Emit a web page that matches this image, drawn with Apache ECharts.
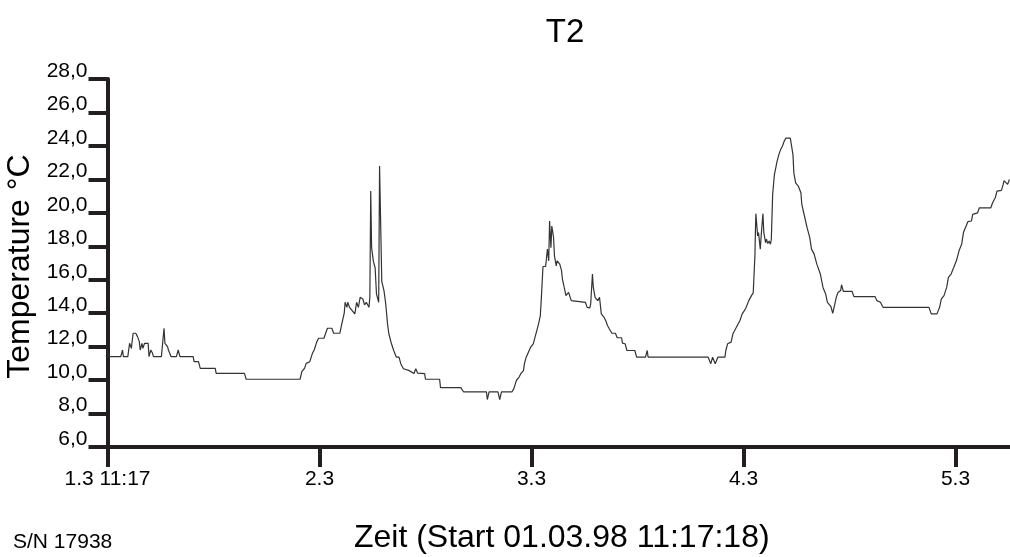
<!DOCTYPE html>
<html>
<head>
<meta charset="utf-8">
<script src="https://cdn.jsdelivr.net/npm/echarts@6/dist/echarts.min.js"></script>
<style>html,body{margin:0;padding:0;background:#fff}#c{width:1010px;height:557px}</style>
</head>
<body>
<div id="c"></div>
<script>
// hours since start (01.03.98 11:17:18)
const hours = [0,0.1,1.5,1.7,1.8,2.3,2.5,2.7,2.9,3.2,3.4,3.6,3.7,3.9,4.0,4.2,4.6,4.7,4.9,5.1,5.2,6.1,6.4,6.5,6.8,6.9,7.2,7.8,8.0,8.2,9.7,9.8,10.3,10.5,12.2,12.3,15.5,15.7,21.8,22.0,22.3,22.5,22.9,23.2,23.4,23.7,23.9,24.5,24.9,25.4,25.6,26.3,26.5,26.8,26.9,27.1,27.2,27.4,28.0,28.2,28.4,28.6,28.9,29.1,29.3,29.6,29.7,29.8,29.9,30.1,30.3,30.45,30.7,30.8,30.9,31.05,31.3,31.5,31.7,31.85,32.15,32.4,32.7,33.0,33.2,33.5,34.1,34.7,34.9,35.1,35.9,36.0,37.6,37.7,40.0,40.3,42.9,43.0,43.2,44.2,44.4,44.6,45.8,46.0,46.3,46.6,46.8,47.1,47.2,47.4,47.6,47.9,48.2,48.4,48.6,48.8,49.0,49.1,49.3,49.6,49.8,49.95,50.05,50.2,50.3,50.5,50.6,50.8,50.9,51.2,51.4,51.5,51.7,51.9,52.1,52.2,52.5,52.6,54.1,54.3,54.6,54.7,54.9,55.0,55.2,55.4,55.5,55.7,55.9,56.2,56.4,56.6,56.8,57.1,57.5,57.7,58.2,58.3,58.6,58.8,59.7,59.9,60.9,61.1,61.2,68.0,68.3,68.5,68.8,69.1,69.9,70.0,70.2,70.6,70.8,71.0,71.3,71.6,71.85,72.1,72.3,72.6,72.9,73.1,73.3,73.35,73.4,73.6,73.7,73.9,74.0,74.2,74.3,74.5,74.6,74.75,74.9,75.05,75.15,75.3,75.5,75.8,76.0,76.2,76.4,76.6,76.8,77.3,77.6,77.7,77.9,78.2,78.5,78.6,78.9,79.2,79.5,79.7,80.0,80.3,80.7,81.0,81.3,81.5,81.9,82.1,82.3,82.5,82.7,83.0,83.1,83.3,84.3,84.5,86.9,87.1,87.5,87.8,93.0,93.25,93.9,94.2,94.4,94.7,95.0,95.2,95.5,95.8,96.1,96.4,96.7,96.8,96.9,97.2,97.4,97.8,97.95,98.5,98.7,100.0,100.2,100.5,100.7,101.2,101.4,101.5,101.7,101.9,102.1];
const temps = [11.8,11.4,11.4,11.8,11.4,11.4,12.2,11.9,12.8,12.8,12.6,12.3,11.8,12.2,11.9,12.2,12.2,11.4,11.8,11.6,11.4,11.4,13.1,12.2,12.0,11.8,11.4,11.4,11.8,11.4,11.4,11.1,11.1,10.7,10.7,10.4,10.4,10.05,10.05,10.5,10.7,11.0,11.1,11.6,11.8,12.3,12.5,12.5,13.1,13.1,12.8,12.8,13.3,14.0,14.65,14.35,14.65,14.35,13.96,14.65,14.35,14.95,14.85,14.5,14.65,14.35,14.95,21.3,17.9,17.1,16.7,15.15,14.65,22.8,22.8,15.9,15.35,14.55,13.36,12.77,12.17,11.77,11.37,11.37,10.98,10.68,10.58,10.39,10.68,10.42,10.39,10.05,10.05,9.55,9.55,9.3,9.3,8.84,9.3,9.3,8.84,9.3,9.3,9.49,9.99,10.18,10.39,10.58,10.98,11.37,11.48,11.97,12.17,12.57,12.96,13.36,13.86,14.75,16.79,16.79,17.83,17.13,19.51,17.92,19.21,18.52,17.43,16.83,17.13,16.93,16.54,16.04,15.54,15.05,14.95,15.24,14.75,14.65,14.65,14.35,14.32,14.55,16.34,15.54,14.95,14.95,14.75,14.95,13.96,13.76,13.56,13.26,13.07,12.8,12.8,12.53,12.53,12.21,12.17,11.77,11.77,11.37,11.37,11.77,11.37,11.37,10.98,11.37,10.98,11.37,11.37,11.77,12.17,12.27,12.77,12.96,13.26,13.56,13.96,14.15,14.35,14.75,15.05,15.21,17.53,18.92,19.95,18.62,18.82,17.83,18.62,19.95,18.82,18.22,18.42,18.16,18.32,18.12,18.42,21.1,22.29,23.08,23.48,23.78,23.98,24.27,24.47,24.47,23.48,22.39,21.79,21.6,21.2,20.51,19.81,19.11,18.52,17.83,17.53,16.93,16.34,15.54,15.15,14.65,14.39,13.99,14.45,14.95,15.24,15.35,15.7,15.3,15.3,14.99,14.99,14.75,14.65,14.35,14.35,13.96,13.96,14.35,14.85,15.05,15.54,16.14,16.34,16.73,17.13,17.73,18.13,18.22,18.82,19.21,19.47,19.51,19.91,20.0,20.3,20.3,20.6,20.9,21.3,21.34,21.7,21.93,21.93,21.7,21.99];
const xTickLabels = ['1.3 11:17','2.3','3.3','4.3','5.3'];
const yMin = 6, yMax = 28, yStep = 2;
const xMax = 102.17;

const FONT = "'Liberation Sans', Arial, sans-serif";
const AX = '#231f20';
const chart = echarts.init(document.getElementById('c'), null, {renderer:'canvas'});
chart.setOption({
  animation:false,
  backgroundColor:'#fff',
  title:{text:'T2', left:560, top:11, textAlign:'center',
    textStyle:{fontFamily:FONT, fontSize:33, fontWeight:'normal', color:'#000'}},
  grid:{left:107.5, right:0, top:79, bottom:110, containLabel:false, outerBoundsMode:'none'},
  xAxis:{type:'value', min:0, max:xMax, interval:24,
    name:'Zeit (Start 01.03.98 11:17:18)', nameLocation:'middle', nameGap:75,
    nameTextStyle:{fontFamily:FONT, fontSize:32, color:'#000', padding:[0,0,0,6]},
    axisLine:{onZero:false, lineStyle:{color:AX, width:4}},
    axisTick:{length:20, lineStyle:{color:AX, width:4}},
    splitLine:{show:false},
    axisLabel:{margin:22, fontFamily:FONT, fontSize:21, color:'#000', showMaxLabel:false,
      formatter:(v)=>{const i=Math.round(v/24); return xTickLabels[i]!==undefined && Math.abs(v-i*24)<1e-6 ? xTickLabels[i] : '';}}
  },
  yAxis:{type:'value', min:yMin, max:yMax, interval:yStep,
    name:'Temperature °C', nameLocation:'middle', nameGap:64,
    nameTextStyle:{fontFamily:FONT, fontSize:32, color:'#000', padding:[0,7,0,0]},
    axisLine:{onZero:false, lineStyle:{color:AX, width:4}},
    axisTick:{length:19, lineStyle:{color:AX, width:4}},
    splitLine:{show:false},
    axisLabel:{margin:20, verticalAlign:'bottom', lineHeight:16, fontFamily:FONT, fontSize:21, color:'#000',
      formatter:(v)=>v.toFixed(1).replace('.',',')}
  },
  graphic:[{type:'text', left:13, top:532, style:{text:'S/N 17938', fontFamily:FONT, fontSize:21, fill:'#000'}}],
  series:[{type:'line', data:hours.map((h,i)=>[h,temps[i]]), showSymbol:false, symbol:'none',
    lineStyle:{color:'#333', width:1.2}, clip:true}]
});
</script>
</body>
</html>
